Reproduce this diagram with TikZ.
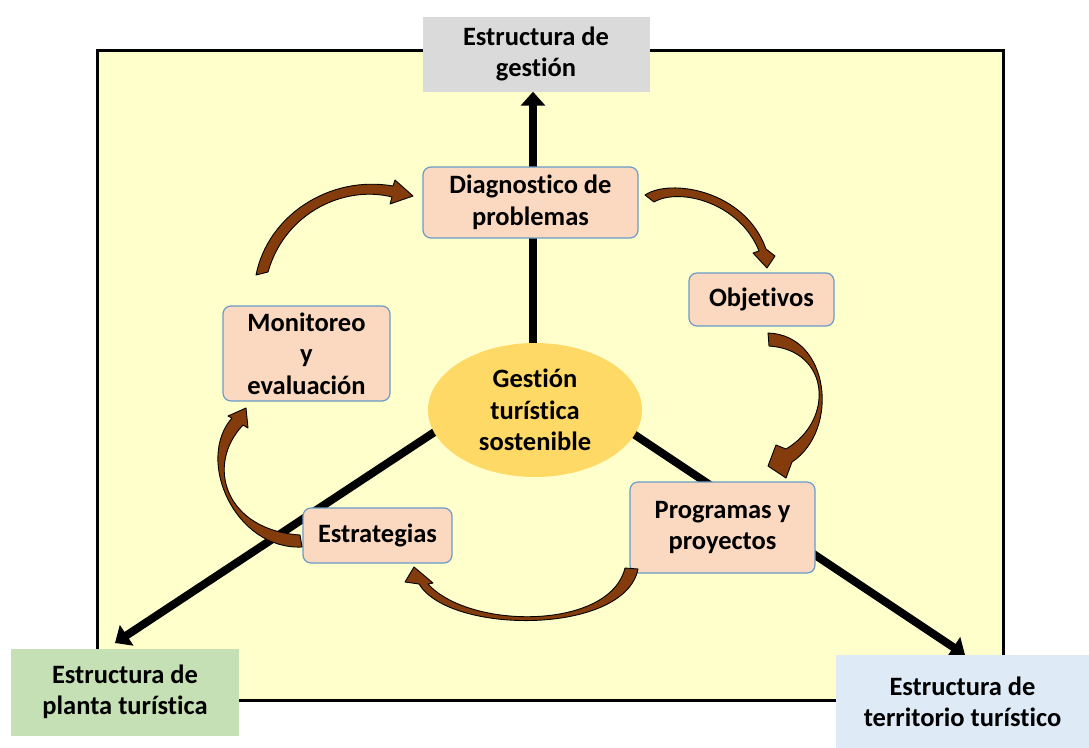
\documentclass[tikz,border=0pt]{standalone}
\usepackage{fontspec}
\setmainfont{Carlito}[Ligatures=CommonOff]
\usetikzlibrary{arrows.meta,shapes.geometric}
\definecolor{bgyellow}{RGB}{255,255,204}
\definecolor{peach}{RGB}{251,217,192}
\definecolor{boxedge}{RGB}{106,155,200}
\definecolor{gold}{RGB}{255,217,102}
\definecolor{graybox}{RGB}{218,218,218}
\definecolor{greenbox}{RGB}{197,224,180}
\definecolor{bluebox}{RGB}{222,235,247}
\definecolor{arrowbrown}{RGB}{132,60,12}
\tikzset{
  stagebox/.style={draw=boxedge, line width=1.2pt, fill=peach, rounded corners=8pt,
    align=center, inner sep=0pt, font=\fontsize{26.5}{31.5}\selectfont\bfseries},
  structbox/.style={rectangle, inner sep=0pt, align=center,
    font=\fontsize{26.5}{31.5}\selectfont\bfseries},
  axis/.style={line width=8pt, -{Triangle[length=14pt,width=24pt]}},
  carrow/.style={fill=arrowbrown, draw=black, line width=0.9pt, line join=round}
}
\begin{document}
\begin{tikzpicture}[x=1pt,y=-1pt]
\useasboundingbox (0,0) rectangle (1089,747);
% frame
\draw[line width=3pt, fill=bgyellow] (97,50) rectangle (1003,700);
% hub and axes
\coordinate (hub) at (533,367);
\coordinate (tipL) at (115,643);
\coordinate (tipR) at (965,655);
\node[structbox, fill=graybox, minimum width=227pt, minimum height=75pt] (gestion) at (536,54) {Estructura de\\gestión};
\draw[axis] (hub) -- (hub |- gestion.south);
\draw[axis] (hub) -- (tipL);
\draw[axis] (hub) -- (tipR);
\node[structbox, fill=greenbox, minimum width=228pt, minimum height=87pt] (planta) at (125,692) {Estructura de\\planta turística};
\node[structbox, fill=bluebox, minimum width=253pt, minimum height=94pt] (territorio) at (962.5,702) {Estructura de\\territorio turístico};
% centre
\node[ellipse, fill=gold, minimum width=214pt, minimum height=134pt, inner sep=0pt, align=center,
  font=\fontsize{26.5}{31.5}\selectfont\bfseries] (centro) at (535,410) {Gestión\\turística\\sostenible};
% stages
\node[stagebox, minimum width=215pt, minimum height=71pt] (diag) at (530.5,202.5) {Diagnostico de\\problemas};
\node[stagebox, minimum width=145pt, minimum height=53pt] (obj) at (761.5,299.5) {Objetivos};
\node[stagebox, minimum width=185pt, minimum height=91pt] (prog) at (722.5,527.5) {Programas y\\proyectos};
\node[stagebox, minimum width=149pt, minimum height=55pt] (estr) at (377.5,535.5) {Estrategias};
\node[stagebox, minimum width=167pt, minimum height=95pt] (moni) at (306.5,353.5) {Monitoreo\\y\\evaluación};
% curved arrows
% Monitoreo -> Diagnostico
\draw[carrow] (256,275) .. controls (268,215) and (330,175) .. (393,186)
  -- (395,180) -- (413,196) -- (390,204) -- (392,197)
  .. controls (345,185) and (285,212) .. (268,272) -- cycle;
% Diagnostico -> Objetivos
\draw[carrow] (645,195) .. controls (670,178) and (745,190) .. (766,249)
  -- (775,256) -- (767,268) -- (753,253) -- (759,251)
  .. controls (740,203) and (680,187) .. (654,202) -- cycle;
% Objetivos -> Programas
\draw[carrow] (768,333) .. controls (830,335) and (840,430) .. (792,462)
  -- (786,478) -- (768,466) -- (776,445) -- (786,449)
  .. controls (835,420) and (830,350) .. (769,346) -- cycle;
% Programas -> Estrategias
\draw[carrow] (638,569) .. controls (625,635) and (450,635) .. (419,584)
  -- (405,582) -- (414,567) -- (433,583) -- (428,584)
  .. controls (470,630) and (610,630) .. (625,568) -- cycle;
% Estrategias -> Monitoreo
\draw[carrow] (302,547) .. controls (235,550) and (195,460) .. (232,418)
  -- (228,416) -- (246,408) -- (248,428) -- (243,425)
  .. controls (205,465) and (225,530) .. (300,535) -- cycle;
\end{tikzpicture}
\end{document}
